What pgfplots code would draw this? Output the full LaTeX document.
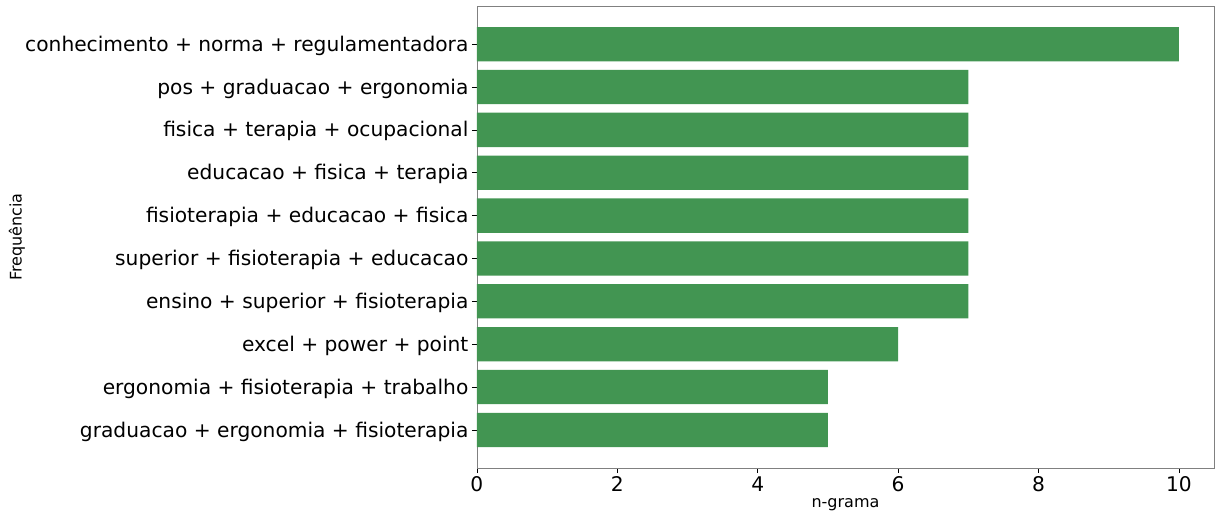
\documentclass[border=0pt]{standalone}
\usepackage{pgfplots}
\pgfplotsset{compat=1.18}
\usepackage{fontspec}
\setmainfont{DejaVu Sans}
\definecolor{barg}{HTML}{429552}
\definecolor{spine}{HTML}{808080}
\begin{document}
\begin{tikzpicture}
\begin{axis}[
  scale only axis,
  width=737pt, height=462pt,
  xbar, bar width=0.8,
  xmin=0, xmax=10.5,
  ymin=-0.89, ymax=9.89,
  xtick={0,2,4,6,8,10},
  ytick={0,1,2,3,4,5,6,7,8,9},
  yticklabels={graduacao + ergonomia + fisioterapia,
    ergonomia + fisioterapia + trabalho,
    excel + power + point,
    ensino + superior + fisioterapia,
    superior + fisioterapia + educacao,
    fisioterapia + educacao + fisica,
    educacao + fisica + terapia,
    fisica + terapia + ocupacional,
    pos + graduacao + ergonomia,
    conhecimento + norma + regulamentadora},
  tick label style={font=\fontsize{20.2}{24}\selectfont},
  yticklabel style={yshift=-1.5pt},
  /pgf/number format/assume math mode=true,
  tick align=outside,
  xtick pos=bottom, ytick pos=left,
  major tick length=5pt,
  tick style={black, line width=0.6pt},
  axis line style={spine, line width=0.8pt},
  xlabel={n-grama},
  ylabel={Frequência},
  label style={font=\fontsize{16}{19}\selectfont},
  xlabel style={at={(axis description cs:0.5,-0.0786)}, anchor=center},
  ylabel style={at={(axis description cs:-0.624,0.5)}, anchor=center, rotate=0},
  clip=false,
]
\addplot[draw=none, fill=barg] coordinates {
 (5,0) (5,1) (6,2) (7,3) (7,4) (7,5) (7,6) (7,7) (7,8) (10,9)};
\path (axis description cs:-0.647,1.013) rectangle (axis description cs:1.004,-0.104);
\end{axis}
\end{tikzpicture}
\end{document}
